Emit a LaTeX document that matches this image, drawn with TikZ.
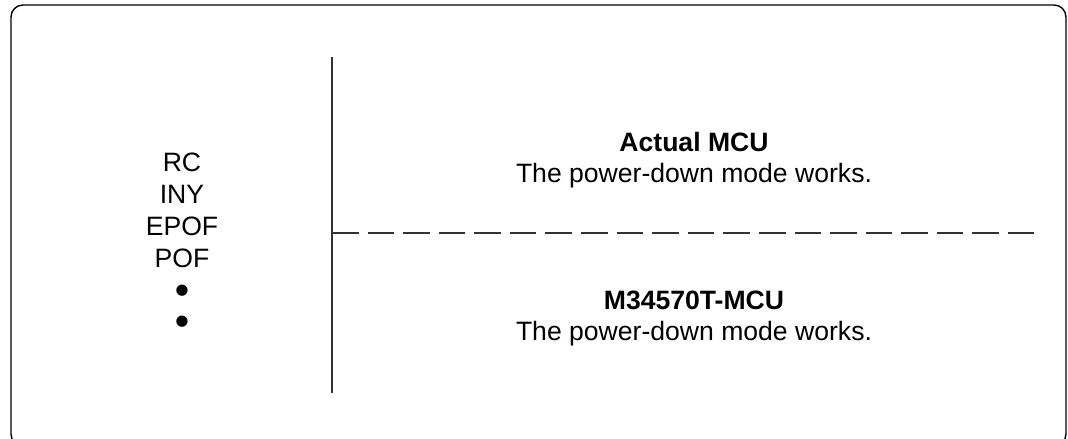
\documentclass[tikz,border=0pt]{standalone}
\usepackage{fontspec}
\setmainfont{Liberation Sans}
\newfontfamily\bulletfont{DejaVu Sans}
\begin{document}
\begin{tikzpicture}[x=0.025cm,y=-0.025cm]
	\tikzset{
		mytext/.style={inner sep=0pt, anchor=base, font=\fontsize{18.9}{22}\selectfont},
		mytitle/.style={mytext, font=\fontsize{18.9}{22}\selectfont\bfseries},
		mybullet/.style={inner sep=0pt, anchor=base, font=\bulletfont\fontsize{10.5}{12}\selectfont},
		myline/.style={line width=1pt, black!80},
		mydash/.style={line width=1pt, black!80, dash pattern=on 18.9pt off 6.4pt}
	}

	\useasboundingbox (0,0) rectangle (1068,439);
	\draw[line width=1pt, rounded corners=8.5pt] (11,5) rectangle (1066,446);

	% left column
	\foreach \t [count=\i] in {RC, INY, EPOF, POF} {
		\node[mytext] (l\i) at (182,140+\i*32) {\t};
	}
	\foreach \i in {5, 6} {
		\node[mybullet] (l\i) at (182,137+\i*31.5) {●};
	}

	% divider
	\coordinate (divtop) at (332,57);
	\coordinate (divbot) at (332,393);
	\coordinate (dashl) at (332,233);
	\coordinate (dashr) at (1034,233);
	\draw[myline] (divtop) -- (divbot);
	\draw[mydash] (dashl) -- (dashr);

	% right column
	\node[mytitle] (actual) at (694,152) {Actual MCU};
	\node[mytext] (actualtxt) at (694,183) {The power-down mode works.};
	\node[mytitle] (sim) at (694,310) {M34570T-MCU};
	\node[mytext] (simtxt) at (694,341) {The power-down mode works.};
\end{tikzpicture}
\end{document}
